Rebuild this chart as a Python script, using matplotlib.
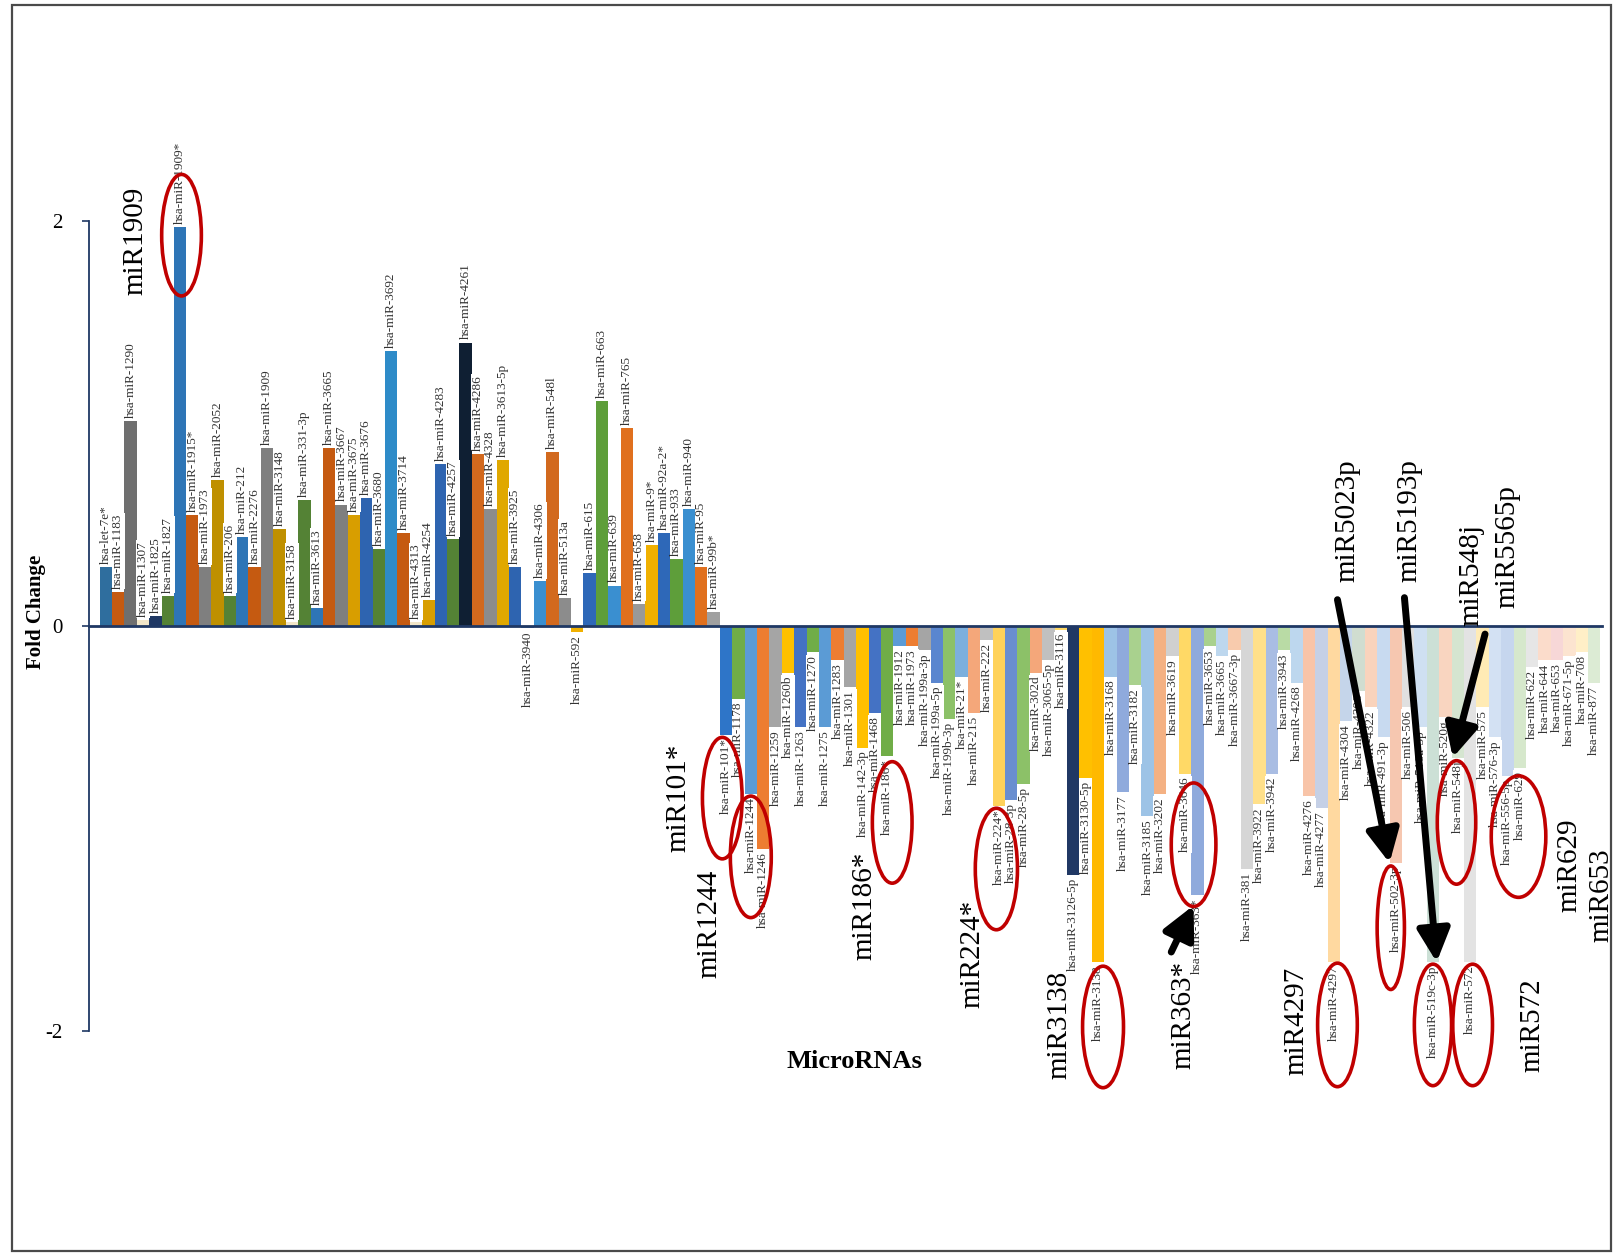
import numpy as np
import matplotlib
matplotlib.use("Agg")
import matplotlib.pyplot as plt
from matplotlib.patches import Ellipse, Rectangle

# ---- data: fold change of up- and down-regulated microRNAs ----
up_labels = [
    "hsa-let-7e*", "hsa-miR-1183", "hsa-miR-1290", "hsa-miR-1307", "hsa-miR-1825",
    "hsa-miR-1827", "hsa-miR-1909*", "hsa-miR-1915*", "hsa-miR-1973", "hsa-miR-2052",
    "hsa-miR-206", "hsa-miR-212", "hsa-miR-2276", "hsa-miR-1909", "hsa-miR-3148",
    "hsa-miR-3158", "hsa-miR-331-3p", "hsa-miR-3613", "hsa-miR-3665", "hsa-miR-3667",
    "hsa-miR-3675", "hsa-miR-3676", "hsa-miR-3680", "hsa-miR-3692", "hsa-miR-3714",
    "hsa-miR-4313", "hsa-miR-4254", "hsa-miR-4283", "hsa-miR-4257", "hsa-miR-4261",
    "hsa-miR-4286", "hsa-miR-4328", "hsa-miR-3613-5p", "hsa-miR-3925", "hsa-miR-3940",
    "hsa-miR-4306", "hsa-miR-548l", "hsa-miR-513a", "hsa-miR-592", "hsa-miR-615",
    "hsa-miR-663", "hsa-miR-639", "hsa-miR-765", "hsa-miR-658", "hsa-miR-9*",
    "hsa-miR-92a-2*", "hsa-miR-933", "hsa-miR-940", "hsa-miR-95", "hsa-miR-99b*",
]
up_values = [
    0.29, 0.17, 1.01, 0.03, 0.05, 0.15, 1.97, 0.55, 0.29, 0.72,
    0.15, 0.44, 0.29, 0.88, 0.48, 0.02, 0.62, 0.09, 0.88, 0.60,
    0.55, 0.63, 0.38, 1.36, 0.46, 0.02, 0.13, 0.80, 0.43, 1.40,
    0.85, 0.58, 0.82, 0.29, -0.01, 0.22, 0.86, 0.14, -0.03, 0.26,
    1.11, 0.20, 0.98, 0.11, 0.40, 0.46, 0.33, 0.58, 0.29, 0.07,
]

down_labels = [
    "hsa-miR-101*", "hsa-miR-1178", "hsa-miR-1244", "hsa-miR-1246", "hsa-miR-1259",
    "hsa-miR-1260b", "hsa-miR-1263", "hsa-miR-1270", "hsa-miR-1275", "hsa-miR-1283",
    "hsa-miR-1301", "hsa-miR-142-3p", "hsa-miR-1468", "hsa-miR-186*", "hsa-miR-1912",
    "hsa-miR-1973", "hsa-miR-199a-3p", "hsa-miR-199a-5p", "hsa-miR-199b-3p", "hsa-miR-21*",
    "hsa-miR-215", "hsa-miR-222", "hsa-miR-224*", "hsa-miR-28-3p", "hsa-miR-28-5p",
    "hsa-miR-302d", "hsa-miR-3065-5p", "hsa-miR-3116", "hsa-miR-3126-5p", "hsa-miR-3130-5p",
    "hsa-miR-3138", "hsa-miR-3168", "hsa-miR-3177", "hsa-miR-3182", "hsa-miR-3185",
    "hsa-miR-3202", "hsa-miR-3619", "hsa-miR-3646", "hsa-miR-363*", "hsa-miR-3653",
    "hsa-miR-3665", "hsa-miR-3667-3p", "hsa-miR-381", "hsa-miR-3922", "hsa-miR-3942",
    "hsa-miR-3943", "hsa-miR-4268", "hsa-miR-4276", "hsa-miR-4277", "hsa-miR-4297",
    "hsa-miR-4304", "hsa-miR-4306", "hsa-miR-4322", "hsa-miR-491-3p", "hsa-miR-502-3p",
    "hsa-miR-506", "hsa-miR-516a-5p", "hsa-miR-519c-3p", "hsa-miR-520g", "hsa-miR-548j",
    "hsa-miR-572", "hsa-miR-575", "hsa-miR-576-3p", "hsa-miR-556-5p", "hsa-miR-629",
    "hsa-miR-622", "hsa-miR-644", "hsa-miR-653", "hsa-miR-671-5p", "hsa-miR-708",
    "hsa-miR-877",
]
down_values = [
    -0.54, -0.36, -0.83, -1.10, -0.50, -0.23, -0.50, -0.13, -0.50, -0.17,
    -0.30, -0.60, -0.43, -0.64, -0.10, -0.10, -0.12, -0.28, -0.46, -0.25,
    -0.43, -0.07, -0.89, -0.86, -0.78, -0.23, -0.17, -0.02, -1.23, -0.75,
    -1.66, -0.25, -0.82, -0.29, -0.94, -0.83, -0.15, -0.73, -1.33, -0.10,
    -0.15, -0.12, -1.20, -0.88, -0.73, -0.12, -0.28, -0.84, -0.90, -1.66,
    -0.47, -0.32, -0.40, -0.55, -1.17, -0.40, -0.50, -1.66, -0.45, -0.65,
    -1.66, -0.40, -0.55, -0.74, -0.70, -0.20, -0.17, -0.17, -0.15, -0.13,
    -0.28,
]

y_ticks = [-2, 0, 2]

# highlighted microRNAs: (text, x, y)
callouts = [
    ("miR1909", 2.4, 1.90), ("miR101*", 46.2, -0.85), ("miR1244", 48.7, -1.47),
    ("miR186*", 61.2, -1.38), ("miR224*", 69.9, -1.62), ("miR3138", 76.9, -1.97),
    ("miR363*", 86.9, -1.92), ("miR4297", 96.0, -1.95), ("miR5023p", 100.1, 0.52),
    ("miR5193p", 105.1, 0.52), ("miR548j", 110.1, 0.25), ("miR5565p", 113.0, 0.39),
    ("miR629", 118.0, -1.18), ("miR653", 120.6, -1.33), ("miR572", 115.0, -1.97),
]
# red rings: (x, y, width, height)
rings = [
    (6.1, 1.93, 3.2, 0.60), (49.7, -0.85, 3.2, 0.60), (52.0, -1.14, 3.3, 0.60),
    (63.4, -0.97, 3.2, 0.60), (71.8, -1.20, 3.4, 0.60), (80.4, -1.98, 3.3, 0.60),
    (87.7, -1.08, 3.6, 0.61), (99.3, -1.97, 3.2, 0.61), (103.6, -1.49, 2.2, 0.61),
    (107.0, -1.97, 3.0, 0.60), (110.2, -1.97, 3.2, 0.60), (108.9, -0.97, 3.1, 0.61),
    (113.9, -1.04, 4.4, 0.60),
]
# black arrows: (tail, head)
arrows = [
    ((99.3, 0.13), (103.5, -1.17)),
    ((104.7, 0.14), (107.3, -1.66)),
    ((111.2, -0.04), (108.6, -0.65)),
    ((85.9, -1.61), (87.7, -1.38)),
]

# ---- styling ----
bar_colors = [
    "#2F6E9E", "#C55A11", "#6F6F6F", "#F2E6C8", "#1F3864", "#548235", "#2E75B6",
    "#C55A11", "#7F7F7F", "#BF9000", "#548235", "#2E75B6", "#C55A11", "#7F7F7F",
    "#BF9000", "#F2E6C8", "#548235", "#2E75B6", "#C55A11", "#7F7F7F", "#D89E00",
    "#2E64B0", "#548235", "#2E8BC8", "#C55A11", "#F2E6C8", "#D89E00", "#2E64B0",
    "#548235", "#0F1F33", "#D2691E", "#8C8C8C", "#E0A800", "#2E64B0", "#5B9BD5",
    "#3A8FD0", "#D2691E", "#8C8C8C", "#F0B000", "#2E68B8", "#5E9E3A", "#3A8FD0",
    "#E0701E", "#999999", "#F0B000", "#2E68B8", "#5E9E3A", "#3A8FD0", "#E0701E",
    "#A0A0A0",
    "#2E75C8", "#70AD47", "#5B9BD5", "#ED7D31", "#A5A5A5", "#FFC000", "#4472C4",
    "#70AD47", "#5B9BD5", "#ED7D31", "#A5A5A5", "#FFC000", "#4472C4", "#70AD47",
    "#5B9BD5", "#ED7D31", "#A5A5A5", "#5A86CF", "#8CC168", "#7CAFDD", "#F4A77A",
    "#C0C0C0", "#FFD25A", "#698ED0", "#8CC168", "#F4A77A", "#C0C0C0", "#FFD966",
    "#203864", "#FFC000", "#FFB900", "#9DC3E6", "#8FAADC", "#A9D18E", "#9DC3E6",
    "#F4B183", "#D0D0D0", "#FFD966", "#8FAADC", "#A9D18E", "#BDD7EE", "#F8CBAD",
    "#D6D6D6", "#FFE08A", "#A9BDE3", "#B9DBA5", "#BDD7EE", "#F8C4A8", "#C5D0E6",
    "#FFD9A0", "#C5D5EA", "#D0DDD0", "#F9D3BC", "#C8DAF0", "#F6C7B0", "#E0E0E0",
    "#CFE0F2", "#CCE0D6", "#F9D5C0", "#D5E5D0", "#E3E3E3", "#FFEBB5", "#D3E1F3",
    "#C6D6EE", "#D6E8CC", "#E6E6E6", "#FBDCCB", "#F7D7D7", "#FCE4D0", "#FFEFC7",
    "#DCEBD4",
]

SERIF = ["Liberation Serif", "DejaVu Serif"]
AXIS_COLOR = "#1F3864"
W, H = 1614, 1255

labels = up_labels + down_labels
values = up_values + down_values
x = np.arange(len(values))

fig = plt.figure(figsize=(W / 100, H / 100), dpi=100)
fig.patch.set_facecolor("white")
ax = fig.add_axes([89 / W, 1 - 1031 / H, (1602 - 89) / W, (1031 - 221) / H])

ax.bar(x, values, width=1.0, color=bar_colors, linewidth=0, zorder=2)

# data labels with the miRNA name at the end of every bar
for xi, lab, v in zip(x, labels, values):
    if v >= 0:
        ax.text(xi, v + 0.015, lab, rotation=90, ha="center", va="bottom",
                fontsize=9.5, family=SERIF, color="#333333", zorder=3, clip_on=False,
                bbox=dict(facecolor="white", edgecolor="none", pad=0.5))
    else:
        ax.text(xi, v - 0.015, lab, rotation=90, ha="center", va="top",
                fontsize=9.5, family=SERIF, color="#333333", zorder=3, clip_on=False,
                bbox=dict(facecolor="white", edgecolor="none", pad=0.5))

ax.set_xlim(-1.36, 120.63)
ax.set_ylim(-2, 2)
ax.set_yticks(y_ticks)
ax.set_yticklabels([str(t) for t in y_ticks], fontsize=15, family=SERIF)
ax.tick_params(axis="y", direction="out", length=5, width=1.2, color=AXIS_COLOR, pad=14)
ax.set_xticks([])
for side in ("top", "right"):
    ax.spines[side].set_visible(False)
ax.spines["left"].set_color(AXIS_COLOR)
ax.spines["left"].set_linewidth(1.3)
ax.spines["bottom"].set_position(("data", 0))
ax.spines["bottom"].set_color(AXIS_COLOR)
ax.spines["bottom"].set_linewidth(2.0)
ax.spines["bottom"].set_zorder(4)
ax.patch.set_visible(False)

# highlighted names, rings and arrows
for txt, tx, ty in callouts:
    ax.text(tx, ty, txt, rotation=90, ha="center", va="center", fontsize=21,
            family=SERIF, color="black", zorder=6, clip_on=False)
for ex, ey, ew, eh in rings:
    ax.add_patch(Ellipse((ex, ey), ew, eh, fill=False, edgecolor="#C00000",
                         linewidth=2.6, zorder=7, clip_on=False))
for tail, head in arrows:
    ax.annotate("", xy=head, xytext=tail, zorder=8, annotation_clip=False,
                arrowprops=dict(arrowstyle="-|>,head_width=0.45,head_length=0.9",
                                lw=5, color="black", mutation_scale=22,
                                shrinkA=0, shrinkB=0))

fig.text(36 / W, 1 - 612 / H, "Fold Change", rotation=90, ha="center", va="center",
         fontsize=15, fontweight="bold", family=SERIF)
fig.text(854 / W, 1 - 1062 / H, "MicroRNAs", ha="center", va="center",
         fontsize=19, fontweight="bold", family=SERIF)

# outer frame
fig.add_artist(Rectangle((12 / W, 4 / H), (1611 - 12) / W, (1250 - 4) / H,
                         transform=fig.transFigure, fill=False,
                         edgecolor="#4a4a4a", linewidth=1.6))

fig.savefig("out.png", dpi=100, facecolor="white")
